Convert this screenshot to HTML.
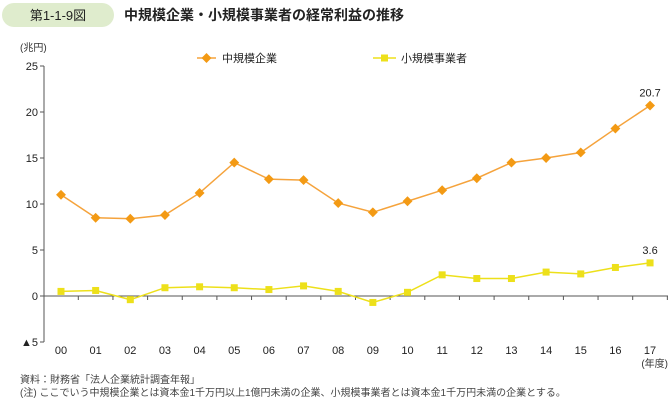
<!DOCTYPE html>
<html><head><meta charset="utf-8"><style>
body{margin:0;background:#fff;font-family:"Liberation Sans","Noto Sans CJK JP",sans-serif;}
</style></head><body>
<svg width="668" height="400" xmlns="http://www.w3.org/2000/svg" font-family="Liberation Sans, Noto Sans CJK JP, sans-serif">
<rect x="2" y="3" width="112" height="24" rx="12" fill="#dfeccd"/>
<text x="58" y="20" font-size="13" text-anchor="middle" fill="#222">第1-1-9図</text>
<text x="124" y="20" font-size="14" font-weight="bold" fill="#222">中規模企業・小規模事業者の経常利益の推移</text>
<text x="20" y="51" font-size="10" fill="#333">(兆円)</text>
<g>
<line x1="197" y1="58" x2="216" y2="58" stroke="#f5a33c" stroke-width="1.5"/>
<rect x="203" y="54.5" width="7" height="7" fill="#f39a14" transform="rotate(45 206.5 58)"/>
<text x="222" y="62" font-size="11" fill="#222">中規模企業</text>
<line x1="373" y1="58" x2="396" y2="58" stroke="#ede01a" stroke-width="1.5"/>
<rect x="381" y="54.5" width="7" height="7" fill="#ede01a"/>
<text x="401" y="62" font-size="11" fill="#222">小規模事業者</text>
</g>
<g id="axes"></g>
<g id="marks"></g>
<text x="668" y="367" font-size="10" text-anchor="end" fill="#333">(年度)</text>
<text x="20" y="383" font-size="10" fill="#444">資料：財務省「法人企業統計調査年報」</text>
<text x="20" y="396" font-size="10" fill="#444">(注) ここでいう中規模企業とは資本金1千万円以上1億円未満の企業、小規模事業者とは資本金1千万円未満の企業とする。</text>
</svg>
<script>
const categories=["00","01","02","03","04","05","06","07","08","09","10","11","12","13","14","15","16","17"];
const mediumValues=[11.0,8.5,8.4,8.8,11.2,14.5,12.7,12.6,10.1,9.1,10.3,11.5,12.8,14.5,15.0,15.6,18.2,20.7];
const smallValues=[0.5,0.6,-0.4,0.9,1.0,0.9,0.7,1.1,0.5,-0.7,0.4,2.3,1.9,1.9,2.6,2.4,3.1,3.6];
const yTicks=[25,20,15,10,5,0,-5];
const yTickLabels=["25","20","15","10","5","0","▲5"];
const NS="http://www.w3.org/2000/svg";
const y=v=>296-v*9.2;
const x=i=>61+i*34.65;
function mk(t,a,p){const e=document.createElementNS(NS,t);for(const k in a)e.setAttribute(k,a[k]);p.appendChild(e);return e;}
const ax=document.getElementById('axes'),mg=document.getElementById('marks');
const yl=mk('line',{x1:44,y1:y(25),x2:44,y2:y(-5),stroke:'#555','stroke-width':1},ax);


yTicks.forEach((v,i)=>{
 mk('line',{x1:40,y1:y(v),x2:44,y2:y(v),stroke:'#555'},ax);
 const t=mk('text',{x:38,y:y(v)+4,'font-size':11,'text-anchor':'end',fill:'#222'},ax);
 t.textContent=yTickLabels[i];
 
 
});
const xl=mk('line',{x1:44,y1:y(0),x2:668,y2:y(0),stroke:'#555'},ax);


categories.forEach((c,i)=>{
 mk('line',{x1:x(i)+17.3,y1:y(0),x2:x(i)+17.3,y2:y(0)+4,stroke:'#555'},ax);
 const t=mk('text',{x:x(i),y:y(-5)+12,'font-size':11,'text-anchor':'middle',fill:'#222'},ax);
 t.textContent=c;
 
 
});
function series(vals,color,lineColor,shape,name){
 const pl=mk('polyline',{points:vals.map((v,i)=>x(i)+','+y(v)).join(' '),fill:'none',stroke:lineColor,'stroke-width':1.5},mg);
 
 
 vals.forEach((v,i)=>{
  let m;
  if(shape==='d') m=mk('rect',{x:x(i)-3.5,y:y(v)-3.5,width:7,height:7,fill:color,transform:`rotate(45 ${x(i)} ${y(v)})`},mg);
  else m=mk('rect',{x:x(i)-3.5,y:y(v)-3.5,width:7,height:7,fill:color},mg);
  
  
 });
 const n=vals.length-1;
 const t=mk('text',{x:x(n),y:y(vals[n])-9,'font-size':11,'text-anchor':'middle',fill:'#222'},mg);
 t.textContent=vals[n].toFixed(1);
 
 
}
series(mediumValues,'#f39a14','#f5a33c','d','medium');
series(smallValues,'#ede01a','#ede01a','s','small');
</script>
</body></html>
